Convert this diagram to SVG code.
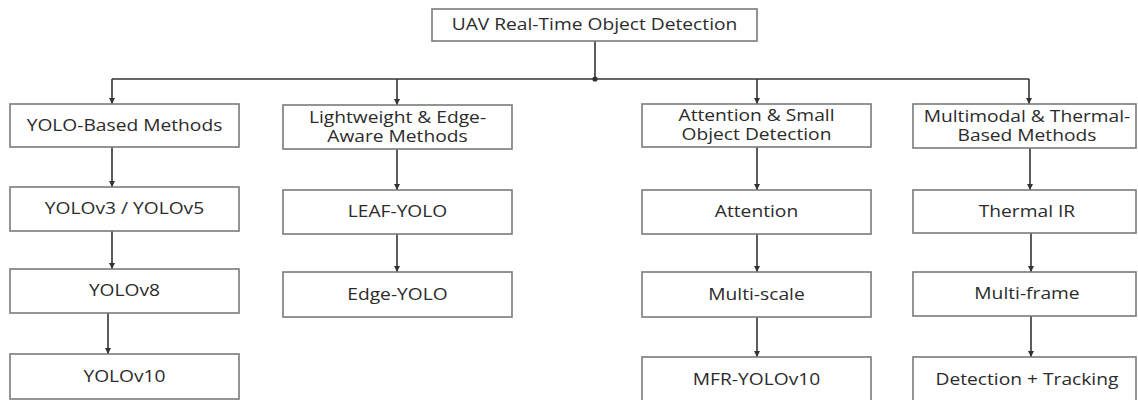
<svg xmlns="http://www.w3.org/2000/svg" width="1138" height="400" viewBox="0 0 1138 400">
  <style>
    .box { fill: #ffffff; stroke: #7a7a7a; stroke-width: 1.6; }
    .t { font-family: "Open Sans", "Liberation Sans", sans-serif; font-size: 15.5px; fill: #2b2b2b; text-anchor: middle; transform-box: fill-box; transform-origin: center; transform: scaleX(1.24); }
    .c { fill: none; stroke: #333333; stroke-width: 1.6; }
  </style>
  <defs>
    <marker id="ah" viewBox="0 0 10 10" refX="10" refY="5" markerWidth="4" markerHeight="4" markerUnits="strokeWidth" orient="auto">
      <path d="M0,0 L10,5 L0,10 Z" fill="#333333"/>
    </marker>
  </defs>
  <rect width="1138" height="400" fill="#ffffff"/>

  <g id="connectors">
    <line class="c" x1="595" y1="41" x2="595" y2="79"/>
    <circle cx="595" cy="79" r="2.6" fill="#333333"/>
    <line class="c" x1="112" y1="79" x2="1029" y2="79"/>
    <line class="c" x1="112" y1="79" x2="112" y2="104" marker-end="url(#ah)"/>
    <line class="c" x1="397" y1="79" x2="397" y2="105" marker-end="url(#ah)"/>
    <line class="c" x1="757" y1="79" x2="757" y2="104" marker-end="url(#ah)"/>
    <line class="c" x1="1029" y1="79" x2="1029" y2="104" marker-end="url(#ah)"/>

    <line class="c" x1="112" y1="147" x2="112" y2="187" marker-end="url(#ah)"/>
    <line class="c" x1="112" y1="231" x2="112" y2="269" marker-end="url(#ah)"/>
    <line class="c" x1="108" y1="313" x2="108" y2="354" marker-end="url(#ah)"/>

    <line class="c" x1="397" y1="149" x2="397" y2="190" marker-end="url(#ah)"/>
    <line class="c" x1="397" y1="234" x2="397" y2="272" marker-end="url(#ah)"/>

    <line class="c" x1="757" y1="147" x2="757" y2="190" marker-end="url(#ah)"/>
    <line class="c" x1="757" y1="234" x2="757" y2="272" marker-end="url(#ah)"/>
    <line class="c" x1="757" y1="317" x2="757" y2="357" marker-end="url(#ah)"/>

    <line class="c" x1="1030" y1="148" x2="1030" y2="190" marker-end="url(#ah)"/>
    <line class="c" x1="1031" y1="233" x2="1031" y2="272" marker-end="url(#ah)"/>
    <line class="c" x1="1031" y1="316" x2="1031" y2="357" marker-end="url(#ah)"/>
  </g>

  <g id="root">
    <rect class="box" x="432" y="9" width="325" height="32"/>
    <text class="t" x="594.5" y="30.5">UAV Real-Time Object Detection</text>
  </g>

  <g id="yolo-based">
    <rect class="box" x="10" y="104" width="229" height="43"/>
    <text class="t" x="124.5" y="131">YOLO-Based Methods</text>
  </g>
  <g id="yolov3-v5">
    <rect class="box" x="10" y="187" width="229" height="44"/>
    <text class="t" x="124.5" y="214.5">YOLOv3 / YOLOv5</text>
  </g>
  <g id="yolov8">
    <rect class="box" x="10" y="269" width="229" height="44"/>
    <text class="t" x="124.5" y="296.5">YOLOv8</text>
  </g>
  <g id="yolov10">
    <rect class="box" x="10" y="354" width="229" height="45"/>
    <text class="t" x="124.5" y="382">YOLOv10</text>
  </g>

  <g id="lightweight">
    <rect class="box" x="283" y="105" width="229" height="44"/>
    <text class="t"><tspan x="397.5" y="123">Lightweight &amp; Edge-</tspan><tspan x="397.5" y="142">Aware Methods</tspan></text>
  </g>
  <g id="leaf-yolo">
    <rect class="box" x="283" y="190" width="229" height="44"/>
    <text class="t" x="397.5" y="217.5">LEAF-YOLO</text>
  </g>
  <g id="edge-yolo">
    <rect class="box" x="283" y="272" width="229" height="45"/>
    <text class="t" x="397.5" y="300">Edge-YOLO</text>
  </g>

  <g id="attention-small">
    <rect class="box" x="642" y="104" width="229" height="43"/>
    <text class="t"><tspan x="756.5" y="121">Attention &amp; Small</tspan><tspan x="756.5" y="140">Object Detection</tspan></text>
  </g>
  <g id="attention">
    <rect class="box" x="642" y="190" width="229" height="44"/>
    <text class="t" x="756.5" y="217.5">Attention</text>
  </g>
  <g id="multi-scale">
    <rect class="box" x="642" y="272" width="229" height="45"/>
    <text class="t" x="756.5" y="300">Multi-scale</text>
  </g>
  <g id="mfr-yolov10">
    <rect class="box" x="642" y="357" width="229" height="45"/>
    <text class="t" x="756.5" y="385">MFR-YOLOv10</text>
  </g>

  <g id="multimodal">
    <rect class="box" x="913" y="104" width="223" height="44"/>
    <text class="t"><tspan x="1027" y="122">Multimodal &amp; Thermal-</tspan><tspan x="1027" y="141">Based Methods</tspan></text>
  </g>
  <g id="thermal-ir">
    <rect class="box" x="913" y="190" width="223" height="43"/>
    <text class="t" x="1027" y="217">Thermal IR</text>
  </g>
  <g id="multi-frame">
    <rect class="box" x="913" y="272" width="223" height="44"/>
    <text class="t" x="1027" y="299.5">Multi-frame</text>
  </g>
  <g id="detection-tracking">
    <rect class="box" x="913" y="357" width="223" height="45"/>
    <text class="t" x="1027" y="385">Detection + Tracking</text>
  </g>
</svg>
